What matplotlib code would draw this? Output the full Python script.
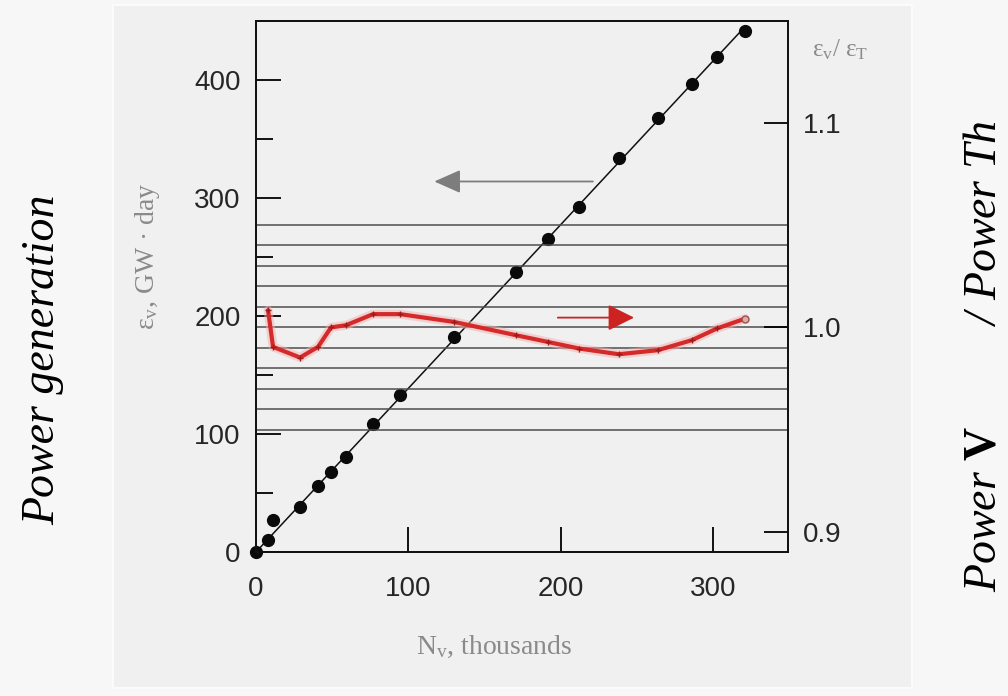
import numpy as np
import matplotlib
matplotlib.use("Agg")
import matplotlib.pyplot as plt
from matplotlib.patches import Rectangle

plt.rcParams["mathtext.fontset"] = "custom"
plt.rcParams["mathtext.rm"] = "Liberation Serif"
plt.rcParams["mathtext.it"] = "Liberation Serif:italic"
plt.rcParams["mathtext.bf"] = "Liberation Serif:bold"

# ── data ──────────────────────────────────────────────────────────────────
n_thousands = [0, 7.9, 11.2, 28.9, 40.7, 49.2, 59.1, 76.8, 94.5, 129.9,
               170.6, 191.6, 212.0, 238.0, 263.7, 286.0, 302.4, 320.8]
energy_gwday = [0, 10.2, 27.1, 38.1, 55.9, 67.8, 80.5, 108.5, 133.0, 182.6,
                236.9, 265.3, 292.6, 333.6, 367.5, 396.6, 419.2, 441.8]

ratio_x = [7.9, 11.2, 28.9, 40.7, 49.2, 59.1, 76.8, 94.5, 129.9,
           170.6, 191.6, 212.0, 238.0, 263.7, 286.0, 302.4, 320.8]
ratio_y = [1.0083, 0.9904, 0.9852, 0.9904, 0.9999, 1.0010, 1.0064, 1.0064,
           1.0026, 0.9961, 0.9928, 0.9896, 0.9868, 0.9888, 0.9937, 0.9994,
           1.0042]

left_ticks = [0, 100, 200, 300, 400]
left_minor = [50, 150, 250, 350]
x_ticks = [0, 100, 200, 300]
right_ticks = [0.9, 1.0, 1.1]
grid_levels = [0.95, 0.96, 0.97, 0.98, 0.99, 1.00, 1.01, 1.02, 1.03, 1.04, 1.05]

# ── styling ───────────────────────────────────────────────────────────────
FIG_BG = "#f7f7f7"
PANEL = "#f0f0f0"
GREY_TXT = "#8a8a8a"
TICK_TXT = "#262626"
RED = "#d42a2a"
W, H = 1008, 696

fig = plt.figure(figsize=(W / 100, H / 100), dpi=100)
fig.patch.set_facecolor(FIG_BG)

# grey picture panel
fig.patches.append(Rectangle((113 / W, 1 - 688 / H), (912 - 113) / W, (688 - 5) / H,
                             transform=fig.transFigure, facecolor=PANEL,
                             edgecolor="#fbfbfb", lw=1.5, zorder=-5))

ax = fig.add_axes([256 / W, 1 - 552 / H, 532 / W, 531 / H])
ax.set_facecolor("none")
ax.set_xlim(0, 349)
ax.set_ylim(0, 450)
ax2 = ax.twinx()
ax2.set_ylim(0.8902, 1.1496)

for a in (ax, ax2):
    for s in a.spines.values():
        s.set_linewidth(1.3)
        s.set_color("#111111")

# horizontal reference lines
ax2.hlines(grid_levels, 0, 349, color="#4d4d4d", lw=1.1, zorder=1)

# ticks
ax.set_xticks(x_ticks)
ax.set_yticks(left_ticks)
ax.set_yticks(left_minor, minor=True)
ax.tick_params(axis="both", which="major", direction="in", length=18, width=1.3,
               labelsize=20, labelcolor=TICK_TXT)
ax.tick_params(axis="y", which="minor", direction="in", length=12, width=1.3)
ax.tick_params(axis="x", pad=17)
ax.tick_params(axis="y", pad=11)
ax2.set_yticks(right_ticks)
ax2.tick_params(axis="y", direction="in", length=17, width=1.3, labelsize=20,
                labelcolor=TICK_TXT, pad=11)
ax2.set_yticklabels([f"{v:.1f}" for v in right_ticks])
for lab in ax.get_xticklabels() + ax.get_yticklabels() + ax2.get_yticklabels():
    lab.set_family("Liberation Sans")

# energy vs N (black)
xs = np.array(n_thousands)
ys = np.array(energy_gwday)
slope = (xs * ys).sum() / (xs * xs).sum()
ax.plot([0, xs.max()], [0, slope * xs.max()], color="#111111", lw=1.1, zorder=3)
ax.plot(xs, ys, "o", color="#0a0a0a", ms=8.5, zorder=4, clip_on=False)

# ratio (red)
ax2.plot(ratio_x, ratio_y, color="#f3b0b0", lw=6.5, alpha=0.5, zorder=2,
         solid_capstyle="round")
ax2.plot(ratio_x, ratio_y, color=RED, lw=3.0, zorder=3,
         solid_joinstyle="round", solid_capstyle="round")
ax2.plot(ratio_x[:-1], ratio_y[:-1], "+", color="#9e1a1a", ms=5, mew=1.0, zorder=4)
ax2.plot(ratio_x[-1:], ratio_y[-1:], "o", mfc="#d8b0a0", mec="#a05050",
         ms=5, mew=1.0, zorder=4)

# direction arrows
ax.annotate("", xy=(117, 314), xytext=(221, 314),
            arrowprops=dict(arrowstyle="-|>,head_length=0.9,head_width=0.4",
                            color="#7d7d7d", lw=1.3, mutation_scale=18,
                            shrinkA=0, shrinkB=0), zorder=5)
ax2.annotate("", xy=(248, 1.0047), xytext=(198, 1.0047),
             arrowprops=dict(arrowstyle="-|>,head_length=0.9,head_width=0.45",
                             color="#cc2222", lw=1.3, mutation_scale=18,
                             shrinkA=0, shrinkB=0), zorder=5)

# axis captions from the scanned chart
fig.text(147 / W, 1 - 256 / H, r"ε$_{\mathrm{v}}$, GW · day", rotation=90,
         ha="center", va="center", color=GREY_TXT, family="Liberation Serif",
         fontsize=20)
fig.text(494 / W, 1 - 647 / H, r"N$_{\mathrm{v}}$, thousands", ha="center",
         va="center", color=GREY_TXT, family="Liberation Serif", fontsize=20)
fig.text(840 / W, 1 - 50 / H, r"ε$_{\mathrm{v}}$/ ε$_{\mathrm{T}}$", ha="center",
         va="center", color=GREY_TXT, family="Liberation Serif", fontsize=18)

# slide side labels
fig.text(43 / W, 1 - 360 / H, "Power generation", rotation=90, ha="center",
         va="center", style="italic", family="Liberation Serif", fontsize=33)
fig.text(1006 / W, 1 - 356 / H, r"Power $\mathbf{V}$         / Power Th",
         rotation=90, ha="right", va="center", style="italic",
         family="Liberation Serif", fontsize=33)

fig.savefig("out.png", dpi=100, facecolor=fig.get_facecolor())
